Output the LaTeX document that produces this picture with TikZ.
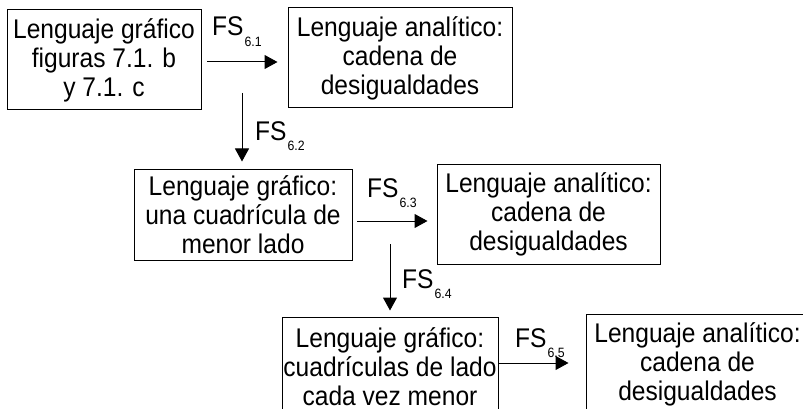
\documentclass[tikz,border=0pt]{standalone}
\usepackage{fontspec}
\setmainfont[FakeStretch=0.91]{Liberation Sans}
\usetikzlibrary{arrows.meta}
\tikzset{
  box/.style={draw=black, line width=1pt, rectangle, inner sep=0pt, align=center,
    font=\fontsize{27}{29}\selectfont},
  arr/.style={line width=1pt, -{Triangle[length=13pt,width=14pt]}},
  lbl/.style={anchor=base west, inner sep=0pt, font=\fontsize{27}{29}\selectfont}
}
\newcommand{\fslab}[1]{FS\kern1pt\raisebox{-10.5pt}{\fontsize{13.5}{13.5}\selectfont #1}}
\begin{document}
\begin{tikzpicture}[x=1pt,y=-1pt]
\clip (0,0) rectangle (803,409);
\fill[white] (0,0) rectangle (803,409);
\node[box, minimum width=194pt, minimum height=100pt] (b1) at (104,60) {Lenguaje gráfico\\figuras 7.1. b\\y 7.1. c};
\node[box, minimum width=224pt, minimum height=100pt] (b2) at (400,58) {Lenguaje analítico:\\cadena de\\desigualdades};
\node[box, minimum width=218pt, minimum height=91pt] (b3) at (243,214.5) {Lenguaje gráfico:\\una cuadrícula de\\menor lado};
\node[box, minimum width=223pt, minimum height=100pt] (b4) at (548.5,214) {Lenguaje analítico:\\cadena de\\desigualdades};
\node[box, minimum width=216pt, minimum height=100pt] (b5) at (390,367) {Lenguaje gráfico:\\cuadrículas de lado\\cada vez menor};
\node[box, minimum width=223pt, minimum height=100pt] (b6) at (697.5,364) {Lenguaje analítico:\\cadena de\\desigualdades};

\coordinate (h1) at (207,62);
\coordinate (v1) at (242,93);
\coordinate (h2) at (357,221);
\coordinate (v2) at (390,244);
\coordinate (h3) at (499,363);

\draw[arr, shorten >=10pt] (h1) -- (h1 -| b2.west);
\draw[arr, shorten >=7pt] (v1) -- (v1 |- b3.north);
\draw[arr, shorten >=9pt] (h2) -- (h2 -| b4.west);
\draw[arr, shorten >=6pt] (v2) -- (v2 |- b5.north);
\draw[arr, shorten >=17pt] (h3) -- (h3 -| b6.west);

\node[lbl] (l1) at (212,36) {\fslab{6.1}};
\node[lbl] (l2) at (255,140) {\fslab{6.2}};
\node[lbl] (l3) at (367,197) {\fslab{6.3}};
\node[lbl] (l4) at (402,288) {\fslab{6.4}};
\node[lbl] (l5) at (515,347) {\fslab{6.5}};
\end{tikzpicture}
\end{document}
